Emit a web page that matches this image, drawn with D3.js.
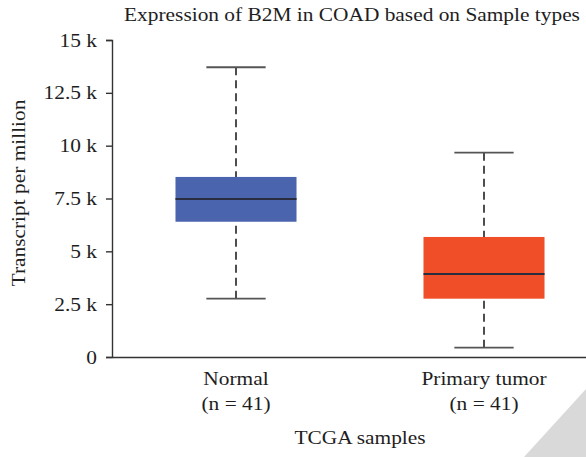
<!DOCTYPE html>
<html>
<head>
<meta charset="utf-8">
<script src="https://cdn.jsdelivr.net/npm/d3@7"></script>
<style>
  html, body { margin: 0; padding: 0; background: #fff; }
  svg { display: block; }
  text { font-family: "Liberation Serif", "Times New Roman", serif; fill: #1e1e1e; }
</style>
</head>
<body>
<svg id="chart" width="586" height="457"></svg>
<script>
// Expression of B2M (transcripts per million) by TCGA sample type
const categories = ["Normal", "Primary tumor"];
const sampleCounts = [41, 41];
const whiskerLow  = [2760, 440];
const q1          = [6400, 2760];
const median      = [7480, 3930];
const q3          = [8520, 5680];
const whiskerHigh = [13710, 9670];
const boxColors   = ["#4a64ae", "#f04e28"];
const yTicks      = [0, 2500, 5000, 7500, 10000, 12500, 15000];
const yTickLabels = ["0", "2.5 k", "5 k", "7.5 k", "10 k", "12.5 k", "15 k"];

const W = 586, H = 457;
const FS = 18.2;  // text size
const SX = 1.175; // horizontal stretch of the serif face
const svg = d3.select("#chart");

const y = d3.scaleLinear().domain([0, 15000]).range([357, 40]);
const x = d3.scalePoint().domain(categories).range([112, 608]).padding(0.5);
const step = x.step();
const boxW = step * 0.488;
const capW = boxW * 0.49;

function label(g, px, py, str, anchor, rotate) {
  const t = g.append("g")
    .attr("transform", `translate(${px},${py})` + (rotate ? ` rotate(${rotate})` : "") + ` scale(${SX},1)`);
  return t.append("text")
    .attr("text-anchor", anchor || "middle")
    .attr("font-size", FS)
    .text(str);
}

// corner decoration
svg.append("polygon")
  .attr("points", [[524, H], [W, 389], [W, H]].map(p => p.join(",")).join(" "))
  .attr("fill", "#d9d9d9");

// y axis
const yAxis = d3.axisLeft(y).tickValues(yTicks)
  .tickFormat((d, i) => yTickLabels[i]).tickSize(6).tickPadding(8);
const gy = svg.append("g").attr("transform", "translate(112,0)").call(yAxis);
gy.selectAll("path, line").attr("stroke", "#333").attr("stroke-width", 1.4);
gy.selectAll(".tick text").remove();
gy.selectAll(".tick").each(function (d, i) {
  label(d3.select(this), -15, 6, yTickLabels[i], "end");
});

// x axis baseline
const xAxis = d3.axisBottom(x).tickSize(0).tickFormat("");
const gx = svg.append("g").attr("transform", `translate(0,${y(0)})`).call(xAxis);
gx.select("path").attr("stroke", "#333").attr("stroke-width", 1.4);

// boxes
const rows = categories.map((c, i) => ({
  c, lo: whiskerLow[i], q1: q1[i], med: median[i], q3: q3[i], hi: whiskerHigh[i], col: boxColors[i], n: sampleCounts[i]
}));
const box = svg.append("g").selectAll("g").data(rows).join("g")
  .attr("transform", d => `translate(${x(d.c)},0)`);

box.append("line").attr("class", "whisker")
  .attr("x1", 0).attr("x2", 0).attr("y1", d => y(d.hi)).attr("y2", d => y(d.q3))
  .attr("stroke", "#222").attr("stroke-width", 1.6).attr("stroke-dasharray", "8,5");
box.append("line").attr("class", "whisker")
  .attr("x1", 0).attr("x2", 0).attr("y1", d => y(d.lo)).attr("y2", d => y(d.q1))
  .attr("stroke", "#222").attr("stroke-width", 1.6).attr("stroke-dasharray", "8,5");
box.append("line")
  .attr("x1", -capW / 2).attr("x2", capW / 2).attr("y1", d => y(d.hi)).attr("y2", d => y(d.hi))
  .attr("stroke", "#555").attr("stroke-width", 1.8);
box.append("line")
  .attr("x1", -capW / 2).attr("x2", capW / 2).attr("y1", d => y(d.lo)).attr("y2", d => y(d.lo))
  .attr("stroke", "#555").attr("stroke-width", 1.8);
box.append("rect")
  .attr("x", -boxW / 2).attr("width", boxW)
  .attr("y", d => y(d.q3)).attr("height", d => y(d.q1) - y(d.q3))
  .attr("fill", d => d.col);
box.append("line")
  .attr("x1", -boxW / 2).attr("x2", boxW / 2).attr("y1", d => y(d.med)).attr("y2", d => y(d.med))
  .attr("stroke", "#2a2d40").attr("stroke-width", 2);

// category labels
rows.forEach(d => {
  label(svg, x(d.c), 385, d.c);
  label(svg, x(d.c), 410, `(n = ${d.n})`);
});

// titles
label(svg, 352, 21, "Expression of B2M in COAD based on Sample types");
label(svg, 360, 444, "TCGA samples");
label(svg, 25, 193, "Transcript per million", "middle", -90);
</script>
</body>
</html>
